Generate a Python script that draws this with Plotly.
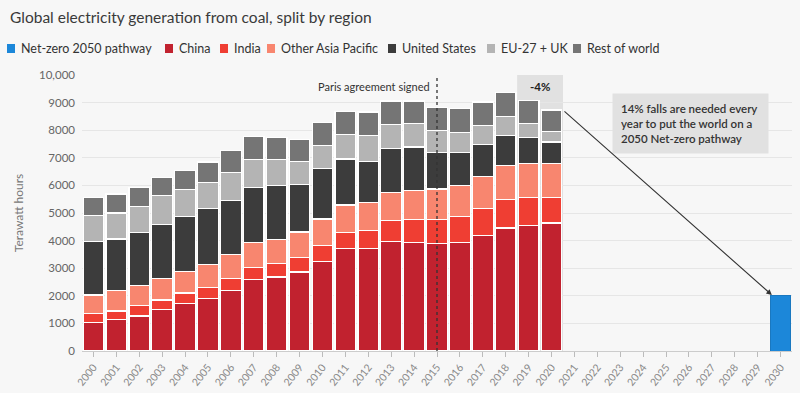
import plotly.graph_objects as go

years = list(range(2000, 2031))
data_years = list(range(2000, 2021))

china = [1040, 1130, 1270, 1490, 1710, 1890, 2190, 2580, 2680, 2860, 3240,
         3700, 3700, 3970, 3930, 3890, 3930, 4180, 4460, 4540, 4640]
india = [330, 320, 380, 360, 390, 420, 450, 450, 480, 540, 590,
         600, 670, 750, 830, 870, 950, 980, 1020, 1010, 930]
other_asia = [660, 730, 720, 770, 780, 810, 850, 900, 870, 910, 950,
              990, 1020, 1030, 1060, 1110, 1110, 1150, 1250, 1230, 1210]
united_states = [1940, 1880, 1930, 1960, 1980, 2040, 1970, 2000, 1960, 1720, 1820,
                 1670, 1490, 1580, 1570, 1310, 1210, 1170, 1090, 970, 790]
eu_uk = [930, 940, 940, 1050, 990, 950, 1020, 1010, 950, 850, 850,
         890, 930, 880, 840, 820, 730, 700, 670, 480, 370]
rest_world = [670, 690, 690, 670, 690, 740, 780, 820, 810, 780, 820,
              840, 850, 850, 830, 820, 850, 840, 870, 860, 790]
netzero_years = [2030]
netzero = [2000]

series = [
    ("China", china, "#c1222f"),
    ("India", india, "#ef3e33"),
    ("Other Asia Pacific", other_asia, "#f8866f"),
    ("United States", united_states, "#3c3c3c"),
    ("EU-27 + UK", eu_uk, "#b4b4b4"),
    ("Rest of world", rest_world, "#757575"),
]
netzero_color = "#1c87d9"

ytick_vals = [0, 1000, 2000, 3000, 4000, 5000, 6000, 7000, 8000, 9000, 10000]
ytick_text = ["0", "1000", "2000", "3000", "4000", "5000", "6000", "7000", "8000", "9000", "10,000"]

FONT = "Lato"
BG = "#f7f7f7"

# plot area in pixels
L, R, T, B = 82, 8, 75, 42
W, H = 800, 393
PW, PH = W - L - R, H - T - B


def px(x):
    return (x - L) / PW


def py(y):
    return (H - B - y) / PH


fig = go.Figure()

fig.add_trace(go.Bar(x=netzero_years, y=netzero, name="Net-zero 2050 pathway",
                     marker=dict(color=netzero_color, line=dict(color="#1a78c0", width=1)),
                     showlegend=False))
for name, vals, col in series:
    fig.add_trace(go.Bar(x=data_years, y=vals, name=name,
                         marker=dict(color=col, line=dict(color="white", width=1.2)),
                         showlegend=False))

shapes = []
annotations = []

# shaded box behind 2019-2020
shapes.append(dict(type="rect", xref="x", yref="y", x0=2018.5, x1=2020.5, y0=0, y1=10000,
                   fillcolor="#e1e1e1", line=dict(width=0), layer="below"))
# Paris line
shapes.append(dict(type="line", xref="x", yref="y", x0=2015, x1=2015, y0=0, y1=10120,
                   line=dict(color="#333333", width=1.3, dash="dot"), layer="above"))

annotations.append(dict(x=2014.8, y=9600, xref="x", yref="y", text="Paris agreement signed",
                        showarrow=False, xanchor="right", yanchor="middle",
                        font=dict(family=FONT, size=11, color="#333333")))
annotations.append(dict(x=2019.5, y=9580, xref="x", yref="y", text="-4%",
                        showarrow=False, xanchor="center", yanchor="middle",
                        font=dict(family=FONT, size=11.5, color="#222222", weight=700)))

annotations.append(dict(x=px(612), y=py(93), xref="paper", yref="paper",
                        text="14% falls are needed every<br>year to put the world on a<br>2050 Net-zero pathway",
                        showarrow=False, xanchor="left", yanchor="top", align="left",
                        bgcolor="#e1e1e1", borderpad=8, width=139,
                        font=dict(family=FONT, size=11.5, color="#333333", weight=600)))

# arrow
annotations.append(dict(x=2029.62, y=2030, xref="x", yref="y",
                        ax=2020.5, ay=8730, axref="x", ayref="y",
                        showarrow=True, arrowhead=2, arrowsize=1, arrowwidth=1.1,
                        arrowcolor="#333333", text=""))

# title
annotations.append(dict(x=px(8), y=py(17), xref="paper", yref="paper",
                        text="Global electricity generation from coal, split by region",
                        showarrow=False, xanchor="left", yanchor="middle",
                        font=dict(family=FONT, size=15.5, color="#3a3a3a")))

# manual legend
legend_items = [("Net-zero 2050 pathway", netzero_color)] + [(n, c) for n, _, c in series]
leg_x = [7, 165, 220, 267, 388, 487, 573]
for (name, col), x0 in zip(legend_items, leg_x):
    shapes.append(dict(type="rect", xref="paper", yref="paper",
                       x0=px(x0), x1=px(x0 + 8), y0=py(53), y1=py(44),
                       fillcolor=col, line=dict(width=0)))
    annotations.append(dict(x=px(x0 + 12), y=py(48.5), xref="paper", yref="paper",
                            text=name, showarrow=False, xanchor="left", yanchor="middle",
                            font=dict(family=FONT, size=12.5, color="#333333")))

fig.update_layout(
    width=W, height=H,
    margin=dict(l=L, r=R, t=T, b=B, autoexpand=False),
    paper_bgcolor=BG, plot_bgcolor=BG,
    barmode="stack", bargap=0.1,
    font=dict(family=FONT, color="#666666"),
    shapes=shapes, annotations=annotations,
    showlegend=False,
    xaxis=dict(range=[1999.5, 2030.5], tickmode="array", tickvals=years,
               ticktext=[str(y) for y in years], tickangle=-52,
               tickfont=dict(family=FONT, size=10.5, color="#888888"),
               ticks="outside", ticklen=5, tickcolor="#bbbbbb",
               showgrid=False, showline=True, linecolor="#cccccc", linewidth=1,
               zeroline=False, automargin=False, fixedrange=True),
    yaxis=dict(range=[0, 10000], tickmode="array", tickvals=ytick_vals, ticktext=ytick_text,
               tickfont=dict(family=FONT, size=11.5, color="#666666"),
               showgrid=True, gridcolor="#e6e6e6", gridwidth=1, zeroline=False,
               ticks="", ticklabelstandoff=6,
               title=dict(text="Terawatt hours", font=dict(family=FONT, size=12, color="#777777"),
                          standoff=12),
               automargin=False, fixedrange=True),
)

fig.write_html("out.html", config={"displayModeBar": False},
               post_script="document.body.style.margin='0';document.body.style.overflow='hidden';")
